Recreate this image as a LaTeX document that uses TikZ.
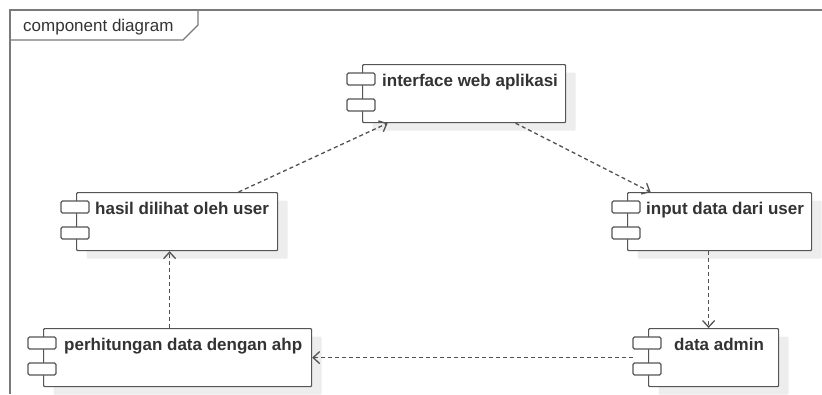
\documentclass[tikz,border=0pt]{standalone}
\usepackage{fontspec}
\setmainfont{Liberation Sans}
\usetikzlibrary{arrows.meta,shadows}

\definecolor{framegray}{HTML}{7A7A7A}
\definecolor{boxline}{HTML}{555555}
\definecolor{inkgray}{HTML}{333333}
\definecolor{shadowgray}{HTML}{EDEDED}

% one UML component: name, x, y, width, text offset, text
\newcommand\umlcomp[6]{%
  \node[comp, minimum width=#4pt] (#1) at (#2,#3) {};
  \draw[port] ([xshift=-15pt,yshift=-9pt]#1.north west) rectangle ++(28pt,-12pt);
  \draw[port] ([xshift=-15pt,yshift=-35pt]#1.north west) rectangle ++(28pt,-12pt);
  \node[ctext, anchor=base west] (#1-label) at ([xshift=#5pt,yshift=-22pt]#1.north west) {#6};
}

\begin{document}
\begin{tikzpicture}[x=1pt, y=-1pt,
  frameline/.style={draw=framegray, line width=1.4pt},
  comp/.style={draw=boxline, fill=white, line width=1.2pt, rectangle,
    rounded corners=1pt, inner sep=0pt, minimum height=58pt, anchor=north west,
    drop shadow={shadow xshift=10pt, shadow yshift=-8pt, fill=shadowgray, opacity=1}},
  port/.style={draw=boxline, fill=white, line width=1.2pt, rounded corners=1.5pt},
  ctext/.style={font=\fontsize{17}{20}\selectfont\bfseries, text=inkgray, inner sep=0pt},
  dep/.style={draw=inkgray!85, line width=1.3pt, dash pattern=on 4pt off 3pt,
    -{Straight Barb[length=6.5pt, width=12pt, line width=1.3pt]}}
]
\useasboundingbox (0,0) rectangle (822,394);

% diagram frame with its name tab
\draw[frameline] (10,394) -- (10,10) -- (822,10);
\draw[frameline] (10,40) -- (183,40) -- (198,25) -- (198,10);
\node[anchor=base west, inner sep=0pt, text=inkgray,
  font=\fontsize{17}{20}\selectfont] (frametitle) at (23,31) {component diagram};

% components
\umlcomp{interface}{362}{64}{203}{20}{interface web aplikasi}
\umlcomp{hasil}{76}{192}{201}{19}{hasil dilihat oleh user}
\umlcomp{input}{627}{192}{184}{19}{input data dari user}
\umlcomp{hitung}{43}{328}{268}{21}{perhitungan data dengan ahp}
\umlcomp{admin}{648}{328}{130}{26}{data admin}

% dependencies
\draw[dep] ([xshift=61.5pt]hasil.north) -- ([xshift=-76.5pt]interface.south);
\draw[dep] ([xshift=51.5pt]interface.south) -- ([xshift=-69pt]input.north);
\draw[dep] ([xshift=-11pt]input.south) -- ([xshift=-5pt]admin.north);
\draw[dep] ([xshift=-15pt]admin.west) -- (hitung.east);
\draw[dep] ([xshift=-8pt]hitung.north) -- ([xshift=-7.5pt]hasil.south);
\end{tikzpicture}
\end{document}
